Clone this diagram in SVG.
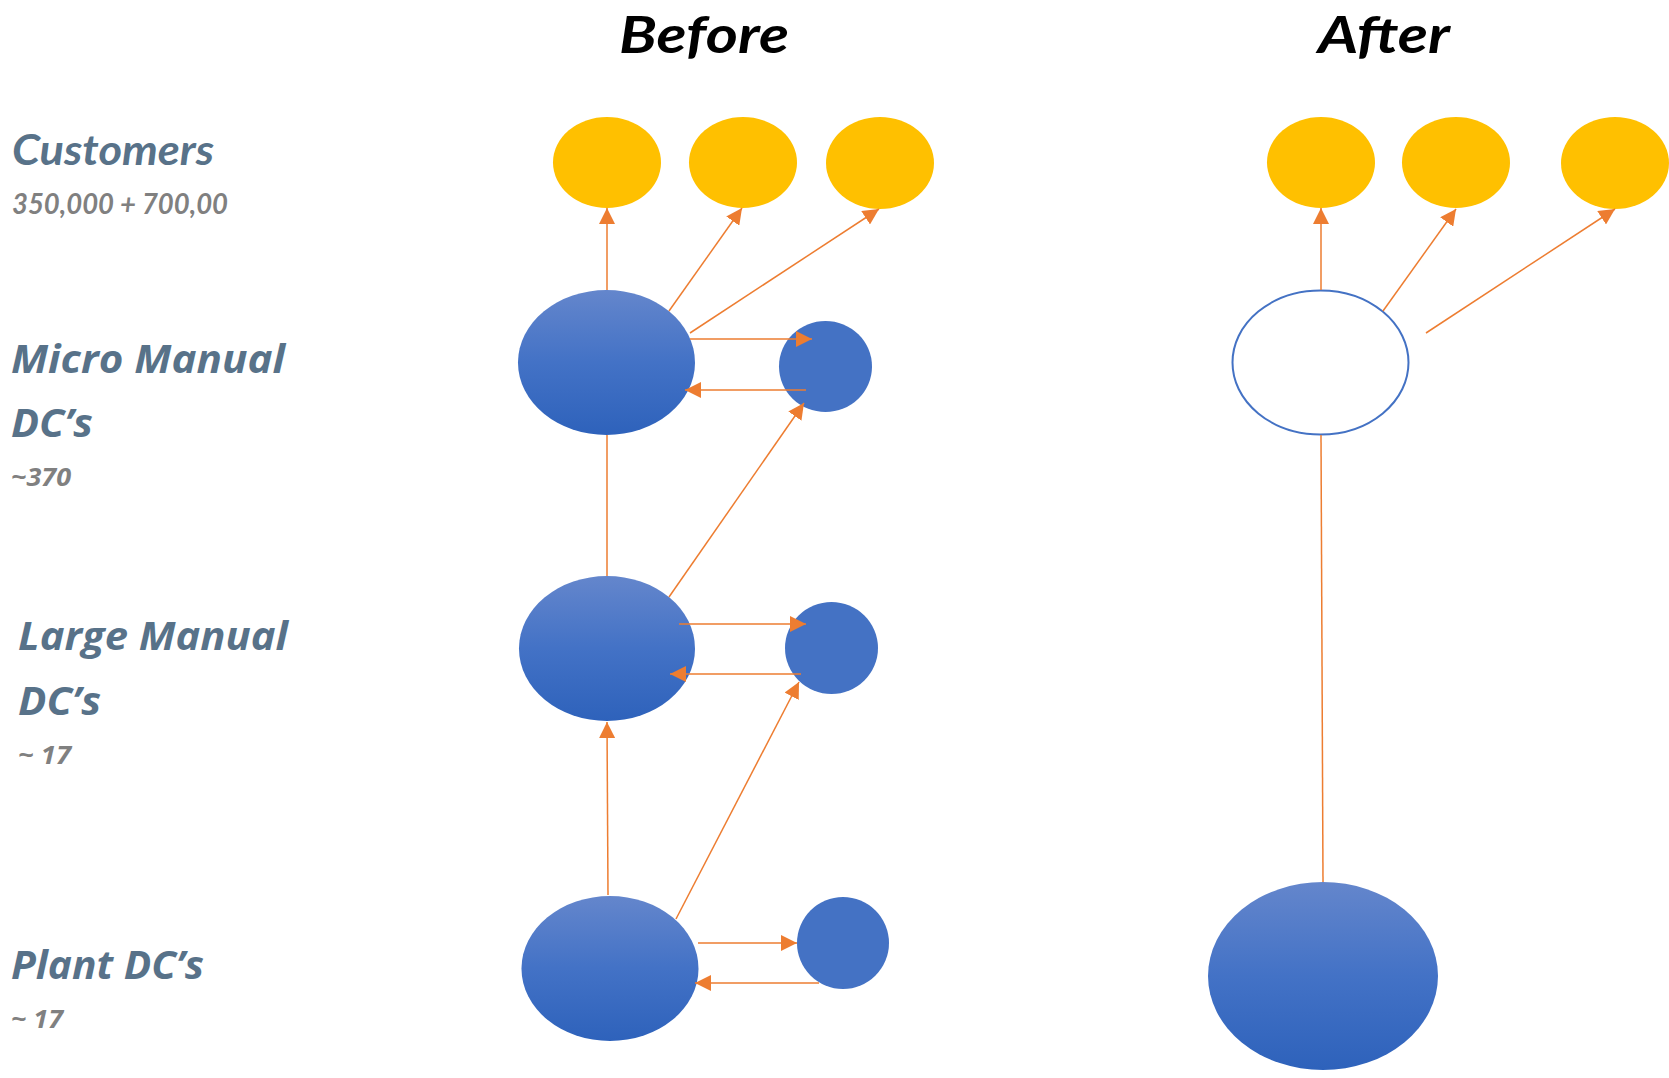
<svg xmlns="http://www.w3.org/2000/svg" width="1669" height="1078" viewBox="0 0 1669 1078">
  <style>
    .title { font-family: Lato, "Liberation Sans", sans-serif; font-weight: bold; font-style: italic; font-size: 51px; fill: #000000; }
    .cust { font-family: Lato, "Liberation Sans", sans-serif; font-weight: bold; font-style: italic; font-size: 42px; fill: #587289; }
    .lbl { font-family: "Open Sans", "DejaVu Sans", sans-serif; font-weight: bold; font-style: italic; font-size: 40px; fill: #587289; }
    .num { font-family: "Open Sans", "DejaVu Sans", sans-serif; font-weight: bold; font-style: italic; font-size: 25px; fill: #808080; }
    .numc { font-family: Lato, "Liberation Sans", sans-serif; font-weight: bold; font-style: italic; font-size: 28px; fill: #808080; }
    .cust-node { fill: #FFC000; }
    .dc { fill: url(#dcFill); }
    .sat { fill: #4472C4; }
    .hollow { fill: #FFFFFF; stroke: #4472C4; stroke-width: 2; }
    .flow { stroke: #ED7D31; stroke-width: 1.5; fill: none; }
    .arr { marker-end: url(#head); }
  </style>
  <defs>
    <linearGradient id="dcFill" x1="0" y1="0" x2="0" y2="1">
      <stop offset="0" stop-color="#6486CC"/>
      <stop offset="0.5" stop-color="#4372C6"/>
      <stop offset="1" stop-color="#2E62BB"/>
    </linearGradient>
    <marker id="head" markerUnits="userSpaceOnUse" markerWidth="16" markerHeight="16" viewBox="0 0 16 16" refX="16" refY="8" orient="auto">
      <path d="M0,0 L16,8 L0,16 z" fill="#ED7D31"/>
    </marker>
  </defs>

  <!-- column headings -->
  <g id="headings">
    <text class="title" x="619" y="53" textLength="170" lengthAdjust="spacingAndGlyphs">Before</text>
    <text class="title" x="1318" y="53" textLength="132" lengthAdjust="spacingAndGlyphs">After</text>
  </g>

  <!-- tier labels -->
  <g id="labels">
    <text class="cust" x="12" y="165" textLength="202" lengthAdjust="spacingAndGlyphs">Customers</text>
    <text class="numc" x="12" y="214" textLength="216" lengthAdjust="spacingAndGlyphs">350,000 + 700,00</text>
    <text class="lbl" x="11" y="373" textLength="274" lengthAdjust="spacingAndGlyphs">Micro Manual</text>
    <text class="lbl" x="11" y="437" textLength="82" lengthAdjust="spacingAndGlyphs">DC’s</text>
    <text class="num" x="11" y="486" textLength="60" lengthAdjust="spacingAndGlyphs">~370</text>
    <text class="lbl" x="18" y="650" textLength="270" lengthAdjust="spacingAndGlyphs">Large Manual</text>
    <text class="lbl" x="18" y="715" textLength="83" lengthAdjust="spacingAndGlyphs">DC’s</text>
    <text class="num" x="18" y="764" textLength="53" lengthAdjust="spacingAndGlyphs">~ 17</text>
    <text class="lbl" x="11" y="979" textLength="193" lengthAdjust="spacingAndGlyphs">Plant DC’s</text>
    <text class="num" x="11" y="1028" textLength="52" lengthAdjust="spacingAndGlyphs">~ 17</text>
  </g>

  <!-- before: customers -->
  <g id="before-cust-1"><ellipse class="cust-node" cx="607" cy="162.5" rx="54" ry="45.5"/></g>
  <g id="before-cust-2"><ellipse class="cust-node" cx="743" cy="162.5" rx="54" ry="45.5"/></g>
  <g id="before-cust-3"><ellipse class="cust-node" cx="880" cy="163" rx="54" ry="46"/></g>

  <!-- before: DC tiers -->
  <g id="before-micro"><ellipse class="dc" cx="606.5" cy="362.5" rx="88.5" ry="72.5"/></g>
  <g id="before-micro-sat"><ellipse class="sat" cx="825.5" cy="366.5" rx="46.5" ry="45.5"/></g>
  <g id="before-large"><ellipse class="dc" cx="607" cy="648.5" rx="88" ry="72.5"/></g>
  <g id="before-large-sat"><ellipse class="sat" cx="831.5" cy="648" rx="46.5" ry="46"/></g>
  <g id="before-plant"><ellipse class="dc" cx="610" cy="968.5" rx="88.5" ry="72.5"/></g>
  <g id="before-plant-sat"><ellipse class="sat" cx="843" cy="943" rx="46" ry="46"/></g>

  <!-- after -->
  <g id="after-cust-1"><ellipse class="cust-node" cx="1321" cy="162.5" rx="54" ry="45.5"/></g>
  <g id="after-cust-2"><ellipse class="cust-node" cx="1456" cy="162.5" rx="54" ry="45.5"/></g>
  <g id="after-cust-3"><ellipse class="cust-node" cx="1615" cy="163" rx="54" ry="46"/></g>
  <g id="after-micro"><ellipse class="hollow" cx="1320.5" cy="362.5" rx="88" ry="72"/></g>
  <g id="after-plant"><ellipse class="dc" cx="1323" cy="976" rx="115" ry="94"/></g>

  <!-- connectors, drawn over the nodes -->
  <g id="connectors">
    <!-- before: micro DC to customers -->
    <line class="flow arr" x1="607" y1="290" x2="607" y2="208"/>
    <line class="flow arr" x1="669" y1="311" x2="742" y2="208"/>
    <line class="flow arr" x1="690" y1="333" x2="879" y2="209"/>
    <!-- before: micro DC exchange -->
    <line class="flow arr" x1="690" y1="339" x2="812" y2="339"/>
    <line class="flow arr" x1="806" y1="390" x2="685" y2="390"/>
    <!-- before: large to micro -->
    <line class="flow" x1="607" y1="435" x2="607" y2="576"/>
    <line class="flow arr" x1="669" y1="597" x2="804" y2="403"/>
    <!-- before: large DC exchange -->
    <line class="flow arr" x1="679" y1="624" x2="806" y2="624"/>
    <line class="flow arr" x1="801" y1="674" x2="670" y2="674"/>
    <!-- before: plant to large -->
    <line class="flow arr" x1="608" y1="895" x2="607" y2="722"/>
    <line class="flow arr" x1="676" y1="919" x2="799" y2="682"/>
    <!-- before: plant DC exchange -->
    <line class="flow arr" x1="698" y1="943" x2="797" y2="943"/>
    <line class="flow arr" x1="819" y1="983" x2="695" y2="983"/>
    <!-- after -->
    <line class="flow arr" x1="1321" y1="290" x2="1321" y2="208"/>
    <line class="flow arr" x1="1383" y1="311" x2="1456" y2="209"/>
    <line class="flow arr" x1="1426" y1="333" x2="1615" y2="209"/>
    <line class="flow" x1="1321" y1="435" x2="1323" y2="882"/>
  </g>
</svg>
